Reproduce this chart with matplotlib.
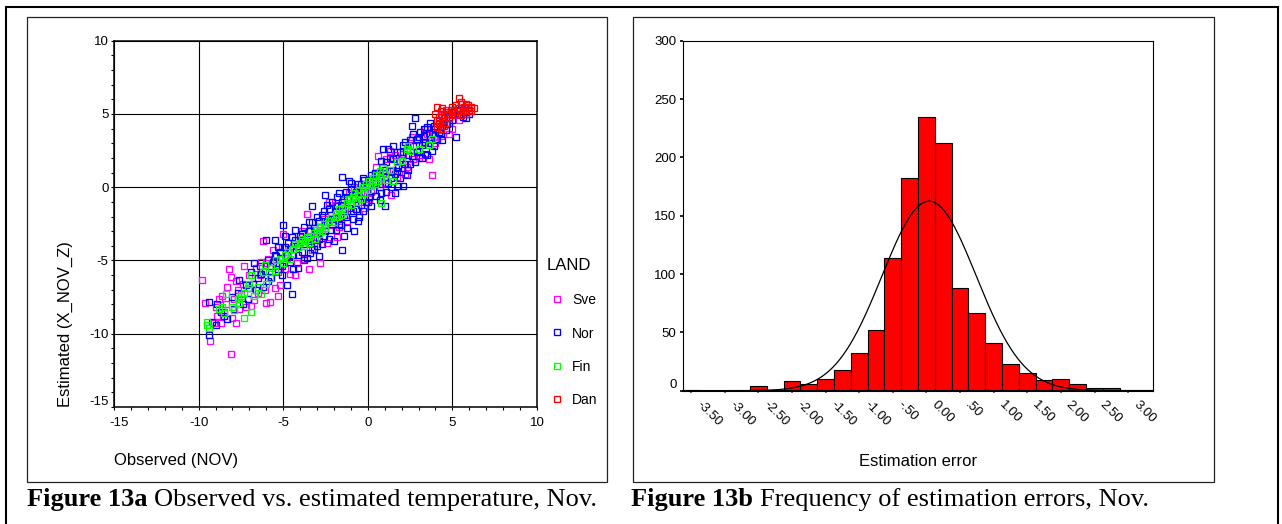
import matplotlib
matplotlib.use('Agg')
import matplotlib.pyplot as plt
import numpy as np
from matplotlib.lines import Line2D
from matplotlib.patches import Rectangle
from matplotlib.transforms import ScaledTranslation
from matplotlib.ticker import MultipleLocator, FixedLocator

plt.rcParams['font.family'] = ['Liberation Sans', 'DejaVu Sans']

# ---------------- data: Figure 13a (observed, estimated) per LAND ----------------
sve_pts = [(-9.8,-6.3),(-9.6,-7.9),(-9.3,-10.5),(-9.1,-9.3),(-8.9,-8.8),(-8.8,-7.6),(-8.7,-9.3),(-8.6,-7.4),
           (-8.5,-8.5),(-8.3,-6.8),(-8.2,-5.6),(-8.1,-11.4),(-8.1,-6.1),(-8.0,-8.9),(-7.9,-7.6),(-7.8,-9.3),
           (-7.7,-7.0),(-7.6,-8.3),(-7.5,-7.3),(-7.4,-6.6),(-7.3,-5.4),(-7.2,-8.2),(-7.1,-7.6),(-7.0,-6.0),
           (-6.9,-8.1),(-6.8,-6.6),(-6.6,-5.5),(-6.5,-7.2),(-6.4,-6.0),(-6.3,-5.1),(-6.2,-3.7),(-6.1,-7.0),
           (-6.0,-7.9),(-5.9,-4.9),(-5.8,-7.8),(-5.7,-6.2),(-5.6,-4.3),(-5.5,-6.9),(-5.4,-5.3),(-5.3,-7.4),
           (-5.2,-6.7),(-5.1,-4.1),(-5.0,-3.2),(-4.9,-5.6),(-4.8,-4.8),(-4.6,-5.9),(-4.4,-4.0),(-4.2,-5.2),
           (-4.0,-3.6),(-3.8,-4.9),(-3.6,-1.8),(-3.5,-5.6),(-3.4,-2.9),(-3.2,-3.8),(-3.0,-3.4),(-2.8,-5.2),
           (-2.6,-2.2),(-2.4,-3.8),(-2.3,-1.0),(-2.1,-2.6),(-1.9,-1.2),(-1.8,-3.4),(-1.6,-2.0),(-1.4,-0.9),
           (-1.2,-2.3),(-1.0,-1.6),(-0.8,0.0),(-0.6,-1.0),(-0.4,-0.3),(-0.2,-1.4),(0.0,0.5),(0.2,-0.3),
           (0.4,0.9),(0.6,2.1),(0.7,0.0),(0.9,1.0),(1.1,1.9),(1.3,2.5),(1.4,-0.5),(1.5,1.2),(1.7,0.7),
           (1.9,1.8),(2.1,2.3),(2.3,1.4),(2.5,2.9),(2.7,1.9),(2.9,3.2),(3.1,2.2),(3.3,3.0),(3.5,3.6),
           (3.6,1.9),(3.7,3.2),(3.8,0.8),(3.9,3.5),(4.1,4.0),(4.3,3.5),(4.5,4.4),(4.6,5.3),(4.8,3.6),
           (5.0,4.0),(5.1,4.9),(5.4,4.6),(5.6,5.1),(5.9,5.4),
           (-9.0,-8.2),(-8.4,-8.0),(-7.8,-6.4),(-6.7,-7.7),(-6.0,-5.2),(-5.3,-5.8),(-4.7,-4.4),(-4.3,-6.0),
           (-3.9,-3.0),(-3.3,-4.3),(-2.7,-2.9),(-2.2,-1.9),(-1.7,-2.7),(-1.1,-0.4),(-0.5,-1.9),(0.1,-0.8),
           (0.5,1.4),(1.0,0.3),(1.6,2.2),(2.2,0.9),(2.6,3.4),(3.0,2.0),(3.4,4.0),(4.0,3.0),(4.4,4.9),
           (5.3,5.2)]

nor_pts = [(-9.4,-10.1),(-9.4,-7.8),(-9.2,-9.2),(-9.0,-9.4),(-8.7,-8.5),(-8.5,-8.8),(-7.9,-8.3),(-7.6,-6.3),
           (-7.4,-8.0),(-7.2,-6.7),(-7.0,-6.9),(-6.8,-6.6),(-6.7,-5.2),(-6.5,-6.2),(-6.3,-5.9),(-6.1,-5.7),
           (-6.0,-3.6),(-5.9,-6.4),(-5.8,-5.4),(-5.6,-5.1),(-5.5,-3.6),(-5.4,-4.7),(-5.3,-5.6),(-5.2,-4.4),
           (-5.1,-6.0),(-5.0,-2.6),(-5.0,-5.2),(-4.9,-4.1),(-4.8,-6.7),(-4.7,-3.8),(-4.6,-5.1),(-4.5,-7.3),
           (-4.5,-3.4),(-4.4,-4.6),(-4.3,-2.9),(-4.2,-4.0),(-4.1,-5.5),(-4.0,-3.3),(-3.9,-4.4),(-3.8,-2.7),
           (-3.7,-3.9),(-3.6,-4.8),(-3.5,-3.0),(-3.4,-3.7),(-3.3,-1.3),(-3.3,-2.4),(-3.2,-4.2),(-3.1,-3.1),
           (-3.0,-2.0),(-2.9,-4.7),(-2.9,-3.5),(-2.8,-2.7),(-2.7,-1.9),(-2.6,-3.3),(-2.5,-0.5),(-2.4,-2.4),
           (-2.3,-1.5),(-2.2,-2.9),(-2.1,-1.0),(-2.0,-3.7),(-2.0,-2.1),(-1.9,-1.6),(-1.8,-0.7),(-1.7,-2.5),
           (-1.6,-1.2),(-1.5,-4.3),(-1.5,0.7),(-1.4,-3.3),(-1.4,-1.9),(-1.3,-0.3),(-1.2,-2.8),(-1.1,-1.4),
           (-1.0,-0.1),(-1.0,0.3),(-0.9,-2.2),(-0.8,-3.0),(-0.8,-0.8),(-0.7,-1.5),(-0.6,0.2),(-0.5,-2.0),
           (-0.5,-0.6),(-0.4,-1.2),(-0.3,0.6),(-0.2,-0.4),(-0.1,-1.0),(0.0,0.1),(0.1,-0.7),(0.2,0.8),
           (0.3,-0.2),(0.4,0.4),(0.5,-0.6),(0.6,1.0),(0.7,0.2),(0.8,-0.4),(0.9,1.4),(0.9,2.6),(1.0,-1.3),
           (1.0,0.7),(1.1,1.7),(1.2,0.3),(1.2,2.6),(1.3,1.1),(1.4,0.0),(1.5,1.9),(1.6,-0.4),(1.6,0.9),
           (1.7,2.4),(1.8,1.4),(1.9,0.6),(2.0,2.0),(2.1,0.1),(2.1,2.9),(2.2,1.6),(2.3,2.6),(2.4,1.2),
           (2.5,3.2),(2.6,2.1),(2.6,4.2),(2.7,2.8),(2.8,4.7),(2.8,1.7),(2.9,3.3),(3.0,2.5),(3.1,3.8),
           (3.2,2.9),(3.3,3.5),(3.4,2.3),(3.5,4.1),(3.5,2.2),(3.6,3.0),(3.7,4.4),(3.8,3.6),(3.9,2.8),
           (4.0,4.0),(4.1,3.3),(4.2,4.5),(4.3,3.7),(4.4,4.2),(4.5,4.8),(4.6,3.9),(4.7,5.0),(4.8,4.4),
           (5.0,4.6),(5.2,3.4),(5.3,5.3),(5.5,5.7),(5.6,4.8),(5.8,4.7),(5.7,5.5),(6.0,5.0),
           (-8.9,-8.0),(-8.3,-9.0),(-8.0,-7.5),(-7.7,-7.2),(-7.1,-7.6),(-6.9,-5.8),(-6.6,-7.0),(-6.4,-5.4),
           (-6.2,-6.8),(-5.9,-5.0),(-5.7,-6.1),(-5.5,-4.6),(-5.3,-4.1),(-5.1,-5.4),(-4.9,-3.3),(-4.8,-4.6),
           (-4.6,-4.2),(-4.4,-5.6),(-4.3,-3.6),(-4.1,-4.6),(-3.9,-3.2),(-3.8,-5.0),(-3.6,-3.5),(-3.5,-2.4),
           (-3.4,-4.5),(-3.2,-2.8),(-3.0,-4.0),(-2.9,-2.3),(-2.7,-3.9),(-2.6,-1.6),(-2.5,-3.0),(-2.4,-1.2),
           (-2.3,-3.5),(-2.1,-2.2),(-1.9,-2.9),(-1.8,-1.3),(-1.7,-0.4),(-1.6,-2.6),(-1.5,-1.0),(-1.3,-2.0),
           (-1.2,-0.7),(-1.1,0.4),(-0.9,-1.6),(-0.7,-0.3),(-0.6,-2.3),(-0.4,0.2),(-0.3,-1.6),(-0.2,0.5),
           (0.0,-1.0),(0.1,0.5),(0.2,-1.3),(0.4,1.0),(0.5,0.3),(0.7,-0.9),(0.8,1.8),(1.0,1.2),(1.1,-0.3),
           (1.3,2.0),(1.4,0.6),(1.5,2.8),(1.7,1.1),(1.8,0.1),(1.9,2.4),(2.0,1.3),(2.2,3.1),(2.3,0.8),
           (2.4,2.2),(2.5,1.6),(2.7,3.6),(2.9,2.4),(3.0,3.4),(3.2,2.0),(3.3,4.0),(3.4,3.1),(3.6,3.7),
           (3.8,2.5),(3.9,4.2),(4.2,3.8),(4.4,3.2),(4.7,4.3),(4.9,5.1),(5.4,5.0)]

fin_pts = [(-9.5,-9.4),(-9.5,-9.2),(-9.4,-9.6),(-8.8,-8.3),(-8.6,-8.2),(-8.5,-8.6),(-8.4,-7.3),(-8.0,-8.2),
           (-7.9,-8.4),(-7.7,-7.6),(-7.6,-7.9),(-7.5,-7.4),(-7.3,-7.2),(-7.3,-8.9),(-7.1,-6.9),(-7.0,-6.6),
           (-6.9,-8.5),(-6.9,-6.0),(-6.7,-7.4),(-6.5,-6.8),(-6.3,-7.3),(-6.2,-5.8),(-6.1,-5.3),(-6.0,-6.6),
           (-5.8,-6.2),(-5.7,-5.5),(-5.5,-5.7),(-5.4,-5.0),(-5.2,-4.9),(-5.0,-5.2),(-4.9,-4.6),(-4.7,-4.4),
           (-4.6,-4.9),(-4.4,-4.2),(-4.3,-3.9),(-4.1,-4.1),(-4.0,-3.8),(-3.9,-3.5),(-3.8,-4.0),(-3.7,-3.7),
           (-3.6,-3.4),(-3.5,-3.8),(-3.4,-3.3),(-3.2,-3.1),(-3.1,-3.5),(-3.0,-2.9),(-2.9,-3.2),(-2.8,-2.7),
           (-2.7,-3.0),(-2.6,-2.5),(-2.5,-2.8),(-2.3,-2.3),(-2.2,-2.1),(-2.0,-2.4),(-1.9,-1.8),(-1.8,-2.0),
           (-1.7,-1.5),(-1.6,-1.9),(-1.5,-1.4),(-1.4,-1.7),(-1.2,-1.1),(-1.1,-0.8),(-1.0,-1.2),(-0.9,-0.7),
           (-0.8,-0.4),(-0.7,-1.0),(-0.6,-0.5),(-0.5,-0.2),(-0.4,-0.8),(-0.3,0.0),(-0.2,-0.4),(-0.1,0.2),
           (0.0,-0.2),(0.1,0.4),(0.2,0.1),(0.3,0.6),(0.4,0.2),(0.5,0.8),(0.6,0.4),(0.7,1.1),(0.8,-1.1),
           (0.8,0.6),(0.9,1.3),(1.0,0.9),(1.1,0.5),(1.3,1.2),(1.5,0.4),(1.7,1.7),(2.0,1.8),(2.3,2.6),
           (2.4,2.8),(2.5,2.5),(3.0,2.6),(3.6,2.9),(3.8,3.3)]

dan_pts = [(4.1,4.1),(4.2,4.3),(4.3,4.0),(4.4,4.5),(4.2,4.8),(4.3,5.2),(4.5,4.9),(4.6,4.4),(4.7,5.0),
           (4.8,4.7),(4.9,5.3),(5.0,4.9),(5.1,5.2),(5.2,5.6),(5.4,6.1),(5.3,5.0),(5.4,5.4),(5.5,5.8),
           (5.6,5.2),(5.7,5.5),(5.8,5.0),(5.9,5.6),(6.0,5.3),(6.1,5.2),(6.3,5.4),(5.5,4.9),(4.5,4.2),
           (4.1,4.6),(4.0,5.0),(4.1,5.5),(4.4,5.4),(4.6,5.1),(5.0,5.5),(5.8,5.7),(6.1,5.5)]

land_labels = ['Sve', 'Nor', 'Fin', 'Dan']
land_colors = ['#FF00FF', '#0000FF', '#00FF00', '#FF0000']

scatter_ticks = [-15, -10, -5, 0, 5, 10]

# ---------------- data: Figure 13b histogram of estimation errors ----------------
err_centers = [-3.50, -3.25, -3.00, -2.75, -2.50, -2.25, -2.00, -1.75, -1.50, -1.25, -1.00, -0.75, -0.50, -0.25,
               0.00, 0.25, 0.50, 0.75, 1.00, 1.25, 1.50, 1.75, 2.00, 2.25, 2.50, 2.75, 3.00, 3.25]
err_counts = [1, 0, 0, 0, 4, 1, 8, 6, 10, 18, 32, 52, 114, 182,
              235, 212, 88, 67, 41, 23, 15, 9, 10, 6, 2, 2, 1, 1]
bin_width = 0.25
err_mean = 0.04
err_sd = 0.70
hist_xticks = [-3.5, -3.0, -2.5, -2.0, -1.5, -1.0, -0.5, 0.0, 0.5, 1.0, 1.5, 2.0, 2.5, 3.0]
hist_xticklabels = ['-3.50', '-3.00', '-2.50', '-2.00', '-1.50', '-1.00', '-.50', '0.00', '.50',
                    '1.00', '1.50', '2.00', '2.50', '3.00']
hist_yticks = [0, 50, 100, 150, 200, 250, 300]

# ---------------- figure ----------------
W, H, DPI = 1282, 524, 100
fig = plt.figure(figsize=(W / DPI, H / DPI), dpi=DPI)
fig.patch.set_facecolor('white')


def fx(px):
    return px / W


def fy(py):
    return 1 - py / H


def px_shift(dx, dy):
    return ScaledTranslation(dx / DPI, dy / DPI, fig.dpi_scale_trans)


# frames
fig.add_artist(Rectangle((fx(6), fy(540)), fx(1278) - fx(6), fy(6.5) - fy(540), transform=fig.transFigure,
                         fill=False, ec='black', lw=1.5))
for (l, r) in [(26.5, 607), (633, 1214)]:
    fig.add_artist(Rectangle((fx(l), fy(482)), fx(r) - fx(l), fy(17) - fy(482), transform=fig.transFigure,
                             fill=False, ec='#222222', lw=0.9))

# ---------------- scatter ----------------
ax1 = fig.add_axes([fx(114), fy(407), fx(537) - fx(114), fy(40.7) - fy(407)])
for pts, col in zip([sve_pts, nor_pts, fin_pts, dan_pts], land_colors):
    xs, ys = zip(*pts)
    ax1.plot(xs, ys, linestyle='none', marker='s', markersize=4.0, markerfacecolor='none',
             markeredgecolor=col, markeredgewidth=0.95, zorder=3)
ax1.set_xlim(-15, 10)
ax1.set_ylim(-15, 10)
ax1.xaxis.set_major_locator(FixedLocator(scatter_ticks))
ax1.yaxis.set_major_locator(FixedLocator(scatter_ticks))
ax1.xaxis.set_minor_locator(MultipleLocator(1))
ax1.yaxis.set_minor_locator(MultipleLocator(1))
ax1.set_xticklabels([str(t) for t in scatter_ticks])
ax1.set_yticklabels([str(t) for t in scatter_ticks])
ax1.grid(True, which='major', color='black', lw=0.8)
ax1.set_axisbelow(True)
ax1.tick_params(axis='both', which='both', direction='out', length=2.2, width=0.8, labelsize=9.5, color='black')
ax1.tick_params(axis='x', which='both', pad=5)
ax1.tick_params(axis='y', which='both', pad=1.8)
for s in ax1.spines.values():
    s.set_linewidth(1.1)
# SPSS shifts the lowest labels away from the corner
lab = ax1.yaxis.get_major_ticks()[0].label1
lab.set_transform(lab.get_transform() + px_shift(0, 7))
lab = ax1.xaxis.get_major_ticks()[0].label1
lab.set_transform(lab.get_transform() + px_shift(5, 0))

fig.text(fx(65), fy(407), 'Estimated (X_NOV_Z)', rotation=90, ha='center', va='bottom', fontsize=12)
fig.text(fx(114), fy(461), 'Observed (NOV)', ha='left', va='center', fontsize=12)

# legend
fig.text(fx(547), fy(265), 'LAND', ha='left', va='center', fontsize=12)
for i, (lbl, col) in enumerate(zip(land_labels, land_colors)):
    yy = 299 + i * 33.3
    fig.add_artist(Line2D([fx(557)], [fy(yy)], transform=fig.transFigure, linestyle='none', marker='s',
                          markersize=4.0, markerfacecolor='none', markeredgecolor=col, markeredgewidth=0.95))
    fig.text(fx(572), fy(yy + 1.5), lbl, ha='left', va='center', fontsize=10)

# ---------------- histogram ----------------
ax2 = fig.add_axes([fx(683), fy(390.7), fx(1153) - fx(683), fy(40.7) - fy(390.7)])
ax2.bar(err_centers, err_counts, width=bin_width, color='#FF0000', edgecolor='black', linewidth=0.8,
        align='center', zorder=2)
xmin, xmax = -3.62, 3.37
ax2.set_xlim(xmin, xmax)
ax2.set_ylim(0, 300)
n_total = sum(err_counts)
xc = np.linspace(xmin, xmax, 400)
yc = n_total * bin_width / (err_sd * np.sqrt(2 * np.pi)) * np.exp(-0.5 * ((xc - err_mean) / err_sd) ** 2)
ax2.plot(xc, yc, color='black', lw=0.9, zorder=3)

ax2.set_yticks(hist_yticks)
ax2.set_yticklabels([str(t) for t in hist_yticks])
ax2.set_xticks(hist_xticks)
ax2.set_xticklabels(hist_xticklabels, rotation=-45, ha='left', va='center', rotation_mode='anchor')
ax2.tick_params(axis='y', direction='out', length=2.2, width=1.2, labelsize=9.5, pad=2.4)
ax2.tick_params(axis='x', direction='out', length=1.5, width=1.2, color='#555555', labelsize=9.5, pad=7.5)
for lab in ax2.get_xticklabels():
    lab.set_transform(lab.get_transform() + px_shift(7, 0))
lab = ax2.yaxis.get_major_ticks()[0].label1
lab.set_transform(lab.get_transform() + px_shift(0, 7))
for s in ax2.spines.values():
    s.set_linewidth(0.8)
ax2.spines['bottom'].set_linewidth(1.5)

fig.text(fx(918), fy(461), 'Estimation error', ha='center', va='center', fontsize=12)

# ---------------- captions ----------------
serif = ['Liberation Serif', 'DejaVu Serif']
fig.canvas.draw()
renderer = fig.canvas.get_renderer()
for x0, bold, rest in [(27, 'Figure 13a', 'Observed vs. estimated temperature, Nov.'),
                       (631, 'Figure 13b', 'Frequency of estimation errors, Nov.')]:
    t = fig.text(fx(x0), fy(506), bold, family=serif, fontweight='bold', fontsize=19, va='baseline', ha='left')
    bb = t.get_window_extent(renderer=renderer)
    fig.text(fx(bb.x1 + 7), fy(506), rest, family=serif, fontsize=19, va='baseline', ha='left')

fig.savefig('out.png', dpi=DPI, facecolor='white')
